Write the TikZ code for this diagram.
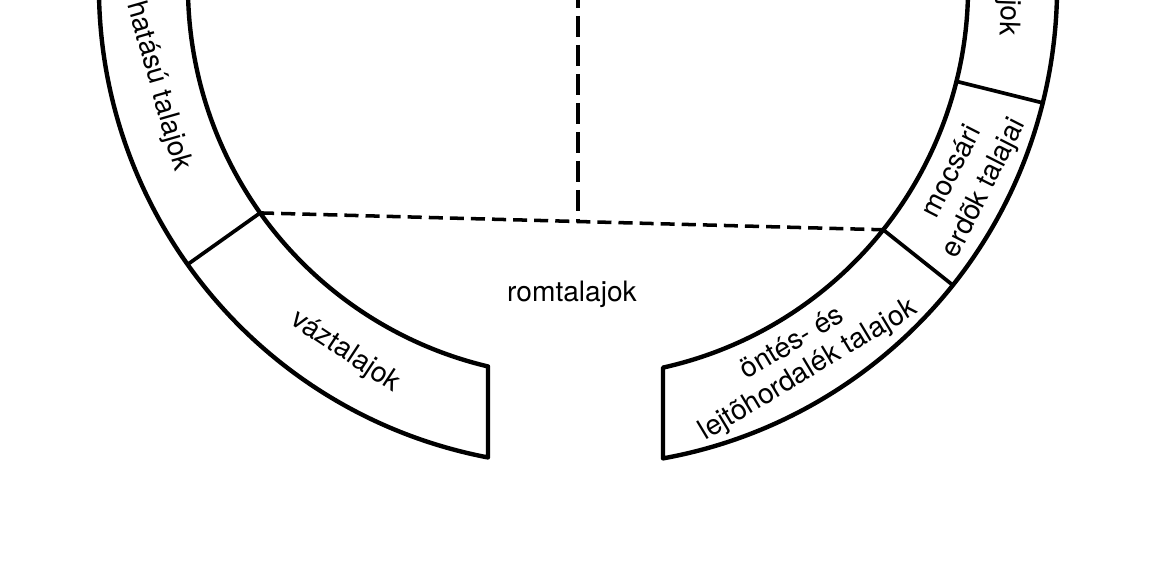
\documentclass[tikz,border=0pt]{standalone}
\usepackage{fontspec}
\setmainfont{TeX Gyre Heros}
\usepackage{tikz}
\usetikzlibrary{calc}
\newcommand{\rinner}{7.80}
\newcommand{\router}{9.58}
\tikzset{
  ring/.style={
    line width=2.5pt,
    line join=round
  },
  divider/.style={
    line width=2.1pt
  },
  dashline/.style={
    line width=2pt,
    dash pattern=on 8pt off 4pt
  },
  dashvert/.style={
    line width=2.2pt,
    dash pattern=on 12pt off 4.5pt
  },
  lbl/.style={
    inner sep=0pt,
    font=\fontsize{16}{19}\selectfont
  }
}
\begin{document}
\begin{tikzpicture}
    \useasboundingbox (0,0) rectangle (23.16,11.62);
    \clip (0,0) rectangle (23.16,11.62);
    \begin{scope}[shift={(11.56,11.88)}]
        \coordinate (c) at (0,0);
        \coordinate (cb) at (0,-8);
        % ring with the gap at the bottom
        \draw[ring] (256.66:\rinner) -- (259.17:\router)
            arc[start angle=259.17, end angle=-79.78, radius=\router]
            -- (-77.41:\rinner)
            arc[start angle=-77.41, end angle=256.66, radius=\rinner] -- cycle;
        % dividers
        \coordinate (dl) at (215.4:\rinner);
        \coordinate (dlo) at (215.4:\router);
        \coordinate (dr) at (-38.5:\rinner);
        \coordinate (dro) at (-38.5:\router);
        \coordinate (du) at (-14:\rinner);
        \coordinate (duo) at (-14:\router);
        \draw[divider] (dl) -- (dlo);
        \draw[divider] (dr) -- (dro);
        \draw[divider] (du) -- (duo);
        % dashed borders
        \coordinate (foot) at (intersection of dl--dr and c--cb);
        \draw[dashline] (dl) -- (dr);
        \draw[dashvert] (c) -- (foot);
        % labels
        \node[lbl] (rom) at (-0.12,-6.14) {romtalajok};
        \node[lbl, rotate=-33.5] (vaz) at (237.5:8.66) {váztalajok};
        \node[lbl, rotate=31, align=center, font=\fontsize{16}{17.5}\selectfont] (ontes) at (301:8.64) {öntés- és\\lejtõhordalék talajok};
        \node[lbl, rotate=63, align=center, font=\fontsize{16}{20.5}\selectfont] (mocsar) at (-26.3:8.72) {mocsári\\erdõk talajai};
        \node[lbl, rotate=-74] (hatasu) at (193.3:8.63) {hatású talajok};
        \node[lbl, rotate=-92] (jok) at (-4.1:8.62) {jok};
    \end{scope}
\end{tikzpicture}
\end{document}
